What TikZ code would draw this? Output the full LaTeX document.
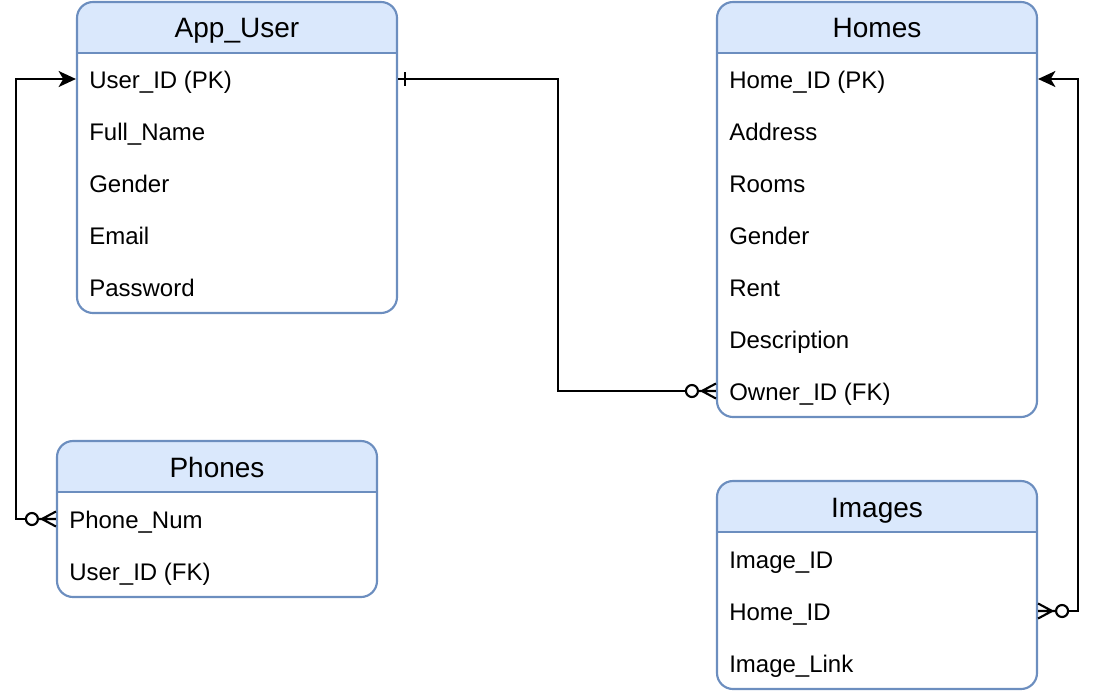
\documentclass[tikz,border=0pt]{standalone}
\usepackage{fontspec}
\setmainfont{Liberation Sans}
\usetikzlibrary{arrows.meta,calc,fit}
\definecolor{hdrfill}{HTML}{DAE8FC}
\definecolor{hdrline}{HTML}{6C8EBF}
\tikzset{
  tbl/.style={draw=hdrline, line width=1.6pt, rounded corners=12pt, inner sep=0pt},
  ttl/.style={font=\fontsize{21}{25}\selectfont, inner sep=0pt, text height=19pt, text depth=4pt},
  field/.style={font=\fontsize{18}{22}\selectfont, anchor=west, inner sep=0pt, text height=17pt, text depth=3.5pt},
  rel/.style={line width=1.6pt, draw=black},
  arr/.style={-{Stealth[length=13pt 0,width=12pt 0,inset=3.5pt 0]}},
  zmany/.pic={
    \draw[line width=1.6pt] (-14,0) -- (0,-7.5) (-14,0) -- (0,7.5) (-18,0) -- (0,0);
    \draw[line width=1.6pt, fill=white] (-24,0) circle[radius=4.5pt];
  },
  onemark/.pic={\draw[line width=1.6pt] (0,-7) -- (0,7);},
}
\newcommand{\mktable}[5]{%
  \begin{scope}
    \clip (#2,#3) rectangle (#4,{#3+51});
    \fill[hdrfill, rounded corners=12pt] (#2,#3) rectangle (#4,#5);
  \end{scope}
  \node[tbl, fit={(#2,#3) (#4,#5)}] (#1) {};
  \draw[hdrline, line width=1.6pt] (#2,{#3+51}) -- (#4,{#3+51});
}
\begin{document}
\begin{tikzpicture}[x=0.75pt, y=-0.75pt]
\useasboundingbox (0,0) rectangle (1096,696);

% App_User
\mktable{user}{77}{2}{397}{313}
\node[ttl] (userh) at (237,27.5) {App\_User};
\node[field] (u1) at (89,79) {User\_ID (PK)};
\node[field] (u2) at (89,131) {Full\_Name};
\node[field] (u3) at (89,183) {Gender};
\node[field] (u4) at (89,235) {Email};
\node[field] (u5) at (89,287) {Password};

% Homes
\mktable{homes}{717}{2}{1037}{417}
\node[ttl] (homesh) at (877,27.5) {Homes};
\node[field] (h1) at (729,79) {Home\_ID (PK)};
\node[field] (h2) at (729,131) {Address};
\node[field] (h3) at (729,183) {Rooms};
\node[field] (h4) at (729,235) {Gender};
\node[field] (h5) at (729,287) {Rent};
\node[field] (h6) at (729,339) {Description};
\node[field] (h7) at (729,391) {Owner\_ID (FK)};

% Phones
\mktable{phones}{57}{441}{377}{597}
\node[ttl] (phonesh) at (217,467) {Phones};
\node[field] (p1) at (69,519) {Phone\_Num};
\node[field] (p2) at (69,571) {User\_ID (FK)};

% Images
\mktable{images}{717}{481}{1037}{689}
\node[ttl] (imagesh) at (877,507) {Images};
\node[field] (i1) at (729,559) {Image\_ID};
\node[field] (i2) at (729,611) {Home\_ID};
\node[field] (i3) at (729,663) {Image\_Link};

% Relations
\draw[rel] (user.east |- u1) -- ++(160,0) |- (homes.west |- h7);
\pic at (homes.west |- h7) {zmany};
\pic at ($(user.east |- u1)+(7,0)$) {onemark};

\draw[rel, arr] (phones.west |- p1) -- ++(-40,0) |- (user.west |- u1);
\pic at (phones.west |- p1) {zmany};

\draw[rel, arr] (images.east |- i2) -- ++(40,0) |- (homes.east |- h1);
\pic[rotate=180] at (images.east |- i2) {zmany};
\end{tikzpicture}
\end{document}
